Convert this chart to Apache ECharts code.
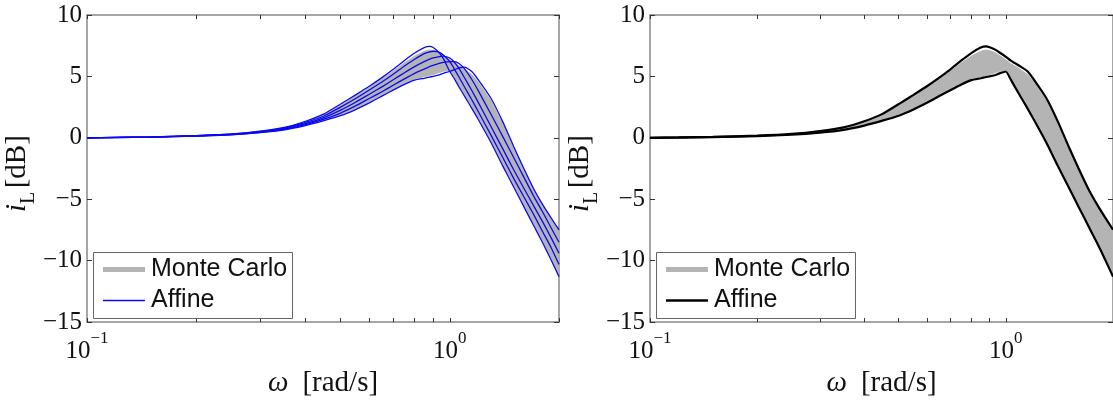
<!DOCTYPE html>
<html><head><meta charset="utf-8">
<script src="https://cdn.jsdelivr.net/npm/echarts@6/dist/echarts.min.js"></script>
<style>html,body{margin:0;padding:0;background:#fff}#c{width:1113px;height:403px}</style>
</head><body><div id="c"></div>
<script>
// ---- data ----
const omega = [0.1, 0.12, 0.15, 0.2, 0.25, 0.3, 0.35, 0.4, 0.45, 0.5, 0.55, 0.6, 0.65, 0.7, 0.75, 0.8, 0.85, 0.88, 0.9, 0.93, 0.96, 1.0, 1.03, 1.06, 1.1, 1.15, 1.2, 1.3, 1.4, 1.5, 1.6, 1.7, 1.8, 1.9, 2.0];
// left panel: individual affine curves
const affine1 = [0, 0.03, 0.08, 0.18, 0.32, 0.55, 0.85, 1.35, 1.95, 2.75, 3.5, 4.2, 4.9, 5.6, 6.3, 6.9, 7.35, 7.45, 7.35, 7.0, 6.45, 5.4, 4.8, 4.15, 3.35, 2.4, 1.45, -0.4, -2.3, -4.0, -5.6, -7.1, -8.5, -9.9, -11.3];
const affine2 = [0, 0.03, 0.07, 0.17, 0.3, 0.51, 0.8, 1.25, 1.78, 2.5, 3.2, 3.9, 4.55, 5.2, 5.85, 6.4, 6.85, 7.0, 7.05, 7.0, 6.75, 6.2, 5.6, 4.95, 4.1, 3.1, 2.1, 0.2, -1.6, -3.3, -4.8, -6.2, -7.6, -8.9, -10.3];
const affine3 = [0, 0.03, 0.07, 0.16, 0.28, 0.48, 0.75, 1.15, 1.65, 2.25, 2.9, 3.55, 4.15, 4.75, 5.3, 5.8, 6.2, 6.4, 6.5, 6.6, 6.65, 6.5, 6.15, 5.65, 4.85, 3.85, 2.85, 0.9, -0.9, -2.6, -4.1, -5.5, -6.8, -8.1, -9.4];
const affine4 = [0, 0.02, 0.06, 0.15, 0.27, 0.45, 0.7, 1.07, 1.52, 2.02, 2.6, 3.2, 3.75, 4.3, 4.8, 5.25, 5.6, 5.8, 5.9, 6.05, 6.15, 6.2, 6.2, 6.05, 5.6, 4.75, 3.8, 1.9, 0.1, -1.6, -3.2, -4.7, -6.0, -7.3, -8.5];
const affine5 = [0, 0.02, 0.06, 0.14, 0.25, 0.42, 0.65, 1.0, 1.4, 1.8, 2.3, 2.85, 3.4, 3.9, 4.35, 4.7, 4.85, 4.95, 5.0, 5.1, 5.25, 5.4, 5.55, 5.7, 5.75, 5.4, 4.7, 3.2, 1.3, -0.7, -2.5, -4.1, -5.4, -6.5, -7.5];
// Monte Carlo band
const mcLow  = [0, 0.02, 0.06, 0.14, 0.26, 0.43, 0.67, 1.03, 1.45, 1.87, 2.38, 2.93, 3.48, 3.98, 4.42, 4.8, 4.98, 5.08, 5.15, 5.3, 5.42, 5.5, 4.95, 4.3, 3.5, 2.55, 1.6, -0.25, -2.15, -3.85, -5.45, -6.95, -8.35, -9.7, -11.1];
const mcHigh = [0, 0.03, 0.08, 0.18, 0.31, 0.53, 0.82, 1.3, 1.88, 2.65, 3.4, 4.1, 4.8, 5.45, 6.1, 6.65, 7.05, 7.15, 7.1, 6.95, 6.7, 6.35, 6.05, 5.85, 5.55, 5.15, 4.5, 3.0, 1.1, -0.8, -2.6, -4.2, -5.5, -6.6, -7.6];
// right panel: affine bounds
const affineUpper = [0, 0.03, 0.08, 0.18, 0.32, 0.55, 0.85, 1.35, 1.95, 2.75, 3.5, 4.2, 4.9, 5.6, 6.3, 6.9, 7.35, 7.45, 7.38, 7.2, 6.95, 6.6, 6.3, 6.08, 5.8, 5.42, 4.72, 3.22, 1.32, -0.68, -2.48, -4.08, -5.38, -6.48, -7.48];
const affineLower = [0, 0.02, 0.06, 0.14, 0.25, 0.42, 0.65, 1.0, 1.4, 1.8, 2.3, 2.85, 3.4, 3.9, 4.35, 4.7, 4.85, 4.95, 5.0, 5.1, 5.25, 5.4, 4.8, 4.15, 3.35, 2.4, 1.45, -0.4, -2.3, -4.0, -5.6, -7.1, -8.5, -9.9, -11.3];
// axes
const xMin = 0.1, xMax = 2;
const yMin = -15, yMax = 10, yStep = 5;
const xLabelTicks = [0.1, 1];
const xAllTicks = [0.1, 0.2, 0.3, 0.4, 0.5, 0.6, 0.7, 0.8, 0.9, 1, 2];
const legendNames = ['Monte Carlo', 'Affine'];

// ---- build chart ----
const GRAY = '#b4b4b4', BLUE = '#0a0af0', BLACK = '#000';
const AXC = '#888', TKC = '#333';
const serif = 'Liberation Serif', sans = 'Liberation Sans';
const pts = arr => omega.map((w, i) => [w, arr[i]]);

const grids = [{left: 87, top: 15, width: 472, height: 309}, {left: 650, top: 15, width: 472, height: 309}];
const xAxes = [], yAxes = [], series = [], legends = [], graphics = [];

grids.forEach((g, gi) => {
  const tick = {show: true, inside: true, length: 4, lineStyle: {color: TKC, width: 1}, customValues: xAllTicks};
  const axLine = {show: true, onZero: false, lineStyle: {color: AXC, width: 1.5}};
  xAxes.push({
    gridIndex: gi, type: 'log', logBase: 10, min: xMin, max: xMax, position: 'bottom',
    axisLine: axLine, axisTick: tick, splitLine: {show: false}, minorTick: {show: false},
    axisLabel: {
      show: true, margin: 8, customValues: xLabelTicks,
      formatter: v => v < 0.5 ? '{b|10}{s|−1}' : '{b|10}{s|0}',
      rich: {
        b: {fontFamily: serif, fontSize: 25, color: '#111', verticalAlign: 'top', padding: [9, 0, 0, 0]},
        s: {fontFamily: serif, fontSize: 17, color: '#111', verticalAlign: 'top'}
      }
    },
    name: '{i|ω}{n|[rad/s]}', nameLocation: 'middle', nameGap: 46,
    nameTextStyle: {rich: {
      i: {fontFamily: serif, fontStyle: 'italic', fontSize: 29, color: '#111', padding: [0, 14, 0, 0]},
      n: {fontFamily: serif, fontSize: 29, color: '#111'}
    }}
  });
  xAxes.push({
    gridIndex: gi, type: 'log', logBase: 10, min: xMin, max: xMax, position: 'top',
    axisLine: axLine, axisTick: tick, axisLabel: {show: false}, splitLine: {show: false}
  });
  yAxes.push({
    gridIndex: gi, type: 'value', min: yMin, max: yMax, interval: yStep, position: 'left',
    axisLine: axLine,
    axisTick: {show: true, inside: true, length: 5, lineStyle: {color: TKC}},
    splitLine: {show: false},
    axisLabel: {margin: 5, fontFamily: serif, fontSize: 25, color: '#111',
      formatter: v => String(v).replace('-', '−')},
    name: '{i|i}{l|L} {n|[dB]}', nameLocation: 'middle', nameGap: 45, nameRotate: 90,
    nameTextStyle: {rich: {
      i: {fontFamily: serif, fontStyle: 'italic', fontSize: 29, color: '#111', verticalAlign: 'bottom', padding: [0, 0, 7, 0]},
      l: {fontFamily: serif, fontSize: 20, color: '#111', verticalAlign: 'bottom'},
      n: {fontFamily: serif, fontSize: 29, color: '#111', verticalAlign: 'bottom', padding: [0, 10, 7, 0]}
    }}
  });
  yAxes.push({
    gridIndex: gi, type: 'value', min: yMin, max: yMax, interval: yStep, position: 'right',
    axisLine: axLine,
    axisTick: {show: true, inside: true, length: 5, lineStyle: {color: TKC}},
    axisLabel: {show: false}, splitLine: {show: false}
  });

  const sfx = gi === 0 ? ' L' : ' R';
  const xi = gi * 2, yi = gi * 2;
  // Monte Carlo band as a polygon through the axes' own scales
  series.push({
    type: 'custom', name: legendNames[0] + sfx, xAxisIndex: xi, yAxisIndex: yi,
    data: [[omega[0], mcLow[0]]], silent: true, itemStyle: {color: GRAY},
    renderItem: (params, api) => {
      const up = omega.map((w, i) => api.coord([w, mcHigh[i]]));
      const lo = omega.map((w, i) => api.coord([w, mcLow[i]])).reverse();
      return {type: 'polygon', shape: {points: up.concat(lo)}, style: {fill: GRAY, stroke: GRAY, lineWidth: 1}};
    }
  });
  const lines = gi === 0 ? [affine1, affine2, affine3, affine4, affine5] : [affineUpper, affineLower];
  const col = gi === 0 ? BLUE : BLACK;
  lines.forEach(arr => series.push({
    type: 'line', name: legendNames[1] + sfx, xAxisIndex: xi, yAxisIndex: yi, symbol: 'none', smooth: 0.15, silent: true,
    data: pts(arr), lineStyle: {width: gi === 0 ? 1.3 : 2.2, color: col}, itemStyle: {color: col}
  }));

  const bx = g.left + 6;
  graphics.push({type: 'rect', z: 3, silent: true, shape: {x: bx + 0.5, y: 252.5, width: 199, height: 66},
    style: {fill: '#fff', stroke: '#666', lineWidth: 1}});
  const lg = (name, top, h, color) => ({
    left: bx + 10, top: top, orient: 'vertical', selectedMode: false, padding: 0,
    icon: 'rect', itemWidth: 42, itemHeight: h,
    textStyle: {fontFamily: sans, fontSize: 25, color: '#111', padding: [0, 0, 0, 1]},
    formatter: n => n.slice(0, -2),
    data: [{name: name, itemStyle: {color: color, borderWidth: 0}}]
  });
  legends.push(lg(legendNames[0] + sfx, 257, 5, GRAY));
  legends.push(lg(legendNames[1] + sfx, 288, gi === 0 ? 1.6 : 2.4, col));
});

const chart = echarts.init(document.getElementById('c'), null, {renderer: 'canvas'});
chart.setOption({
  animation: false, backgroundColor: '#fff',
  grid: grids, xAxis: xAxes, yAxis: yAxes, series: series, legend: legends, graphic: graphics
});
</script></body></html>
